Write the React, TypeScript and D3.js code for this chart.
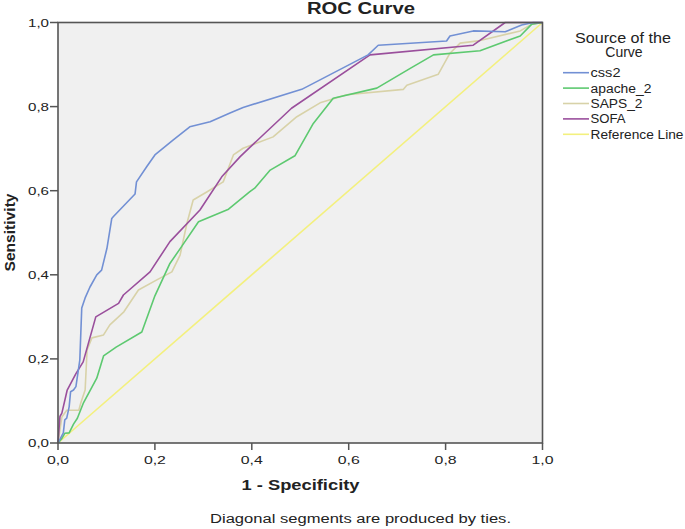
import React from "react";
import * as d3 from "d3";

const css2X = [0, 0.011, 0.014, 0.018, 0.023, 0.026, 0.032, 0.037, 0.045, 0.049, 0.056, 0.066, 0.080, 0.090, 0.101, 0.111, 0.114, 0.159, 0.162, 0.183, 0.200, 0.238, 0.272, 0.314, 0.355, 0.382, 0.503, 0.520, 0.640, 0.661, 0.802, 0.809, 0.857, 0.923, 0.957, 0.981, 1];
const css2Y = [0, 0.024, 0.055, 0.059, 0.086, 0.122, 0.126, 0.134, 0.197, 0.321, 0.345, 0.371, 0.400, 0.411, 0.463, 0.534, 0.538, 0.592, 0.621, 0.657, 0.685, 0.721, 0.752, 0.764, 0.785, 0.798, 0.841, 0.851, 0.923, 0.946, 0.956, 0.968, 0.980, 0.978, 0.994, 1, 1];

const apacheX = [0, 0.008, 0.014, 0.023, 0.032, 0.040, 0.052, 0.080, 0.094, 0.120, 0.173, 0.200, 0.231, 0.255, 0.290, 0.352, 0.396, 0.406, 0.438, 0.489, 0.527, 0.568, 0.658, 0.727, 0.775, 0.871, 0.954, 0.978, 1];
const apacheY = [0, 0.011, 0.023, 0.024, 0.045, 0.059, 0.094, 0.154, 0.207, 0.228, 0.264, 0.350, 0.427, 0.467, 0.526, 0.556, 0.598, 0.606, 0.649, 0.683, 0.760, 0.820, 0.844, 0.891, 0.923, 0.933, 0.968, 0.996, 1];

const sapsX = [0, 0.004, 0.008, 0.018, 0.043, 0.047, 0.056, 0.060, 0.070, 0.094, 0.107, 0.136, 0.166, 0.204, 0.235, 0.252, 0.266, 0.279, 0.307, 0.341, 0.362, 0.382, 0.444, 0.493, 0.541, 0.596, 0.713, 0.720, 0.785, 0.809, 0.830, 0.871, 0.954, 0.978, 1];
const sapsY = [0, 0.031, 0.062, 0.078, 0.078, 0.095, 0.126, 0.221, 0.250, 0.257, 0.281, 0.312, 0.364, 0.388, 0.407, 0.447, 0.522, 0.578, 0.597, 0.621, 0.685, 0.701, 0.728, 0.776, 0.809, 0.828, 0.841, 0.851, 0.877, 0.927, 0.951, 0.957, 0.980, 0.996, 1];

const sofaX = [0, 0.004, 0.008, 0.019, 0.037, 0.052, 0.078, 0.125, 0.135, 0.190, 0.231, 0.293, 0.338, 0.376, 0.396, 0.482, 0.644, 0.857, 0.923, 1];
const sofaY = [0, 0.063, 0.071, 0.126, 0.165, 0.193, 0.300, 0.332, 0.352, 0.407, 0.479, 0.554, 0.633, 0.681, 0.703, 0.796, 0.923, 0.946, 1, 1];

const refX = [0, 1];
const refY = [0, 1];

const seriesNames = ["css2", "apache_2", "SAPS_2", "SOFA", "Reference Line"];
const seriesColors = ["#7290d4", "#5dc970", "#d8d2a8", "#9a4f9c", "#f3f07e"];
const tickValues = [0, 0.2, 0.4, 0.6, 0.8, 1.0];
const tickLabels = ["0,0", "0,2", "0,4", "0,6", "0,8", "1,0"];
const legendWidths = [30, 61, 52, 35, 93];

export default function App() {
  const W = 685, H = 529;
  const x = d3.scaleLinear().domain([0, 1]).range([58, 542.5]);
  const y = d3.scaleLinear().domain([0, 1]).range([443, 22.5]);
  const line = d3.line<[number, number]>().x(d => x(d[0])).y(d => y(d[1]));
  const series = [
    [css2X, css2Y],
    [apacheX, apacheY],
    [sapsX, sapsY],
    [sofaX, sofaY],
    [refX, refY],
  ];
  const drawOrder = [4, 2, 1, 3, 0];
  const font = "'Liberation Sans', Arial, sans-serif";
  return (
    <svg width={W} height={H} style={{ position: "absolute", left: 0, top: 0, background: "#fff" }} fontFamily={font}>
      <rect x={x(0)} y={y(1)} width={x(1) - x(0)} height={y(0) - y(1)} fill="#f0f0f0" />
      <g>
        {drawOrder.map(i => {
          const [xs, ys] = series[i];
          const pts = xs.map((v, k) => [v, ys[k]] as [number, number]);
          return <path key={i} d={line(pts) || ""} fill="none" stroke={seriesColors[i]} strokeWidth={1.6} strokeLinejoin="round" />;
        })}
      </g>
      <rect x={x(0)} y={y(1)} width={x(1) - x(0)} height={y(0) - y(1)} fill="none" stroke="#555" strokeWidth={1.6} />
      {tickValues.map((t, i) => (
        <g key={"y" + i}>
          <line x1={x(0) - 8} x2={x(0)} y1={y(t)} y2={y(t)} stroke="#555" strokeWidth={1.5} />
          <text x={49} y={y(t) + 4} textAnchor="end" fontSize={11} fill="#222" textLength={21} lengthAdjust="spacingAndGlyphs">{tickLabels[i]}</text>
        </g>
      ))}
      {tickValues.map((t, i) => (
        <g key={"x" + i}>
          <line x1={x(t)} x2={x(t)} y1={y(0)} y2={y(0) + 7} stroke="#555" strokeWidth={1.5} />
          <text x={x(t)} y={463.5} textAnchor="middle" fontSize={11} fill="#222" textLength={22} lengthAdjust="spacingAndGlyphs">{tickLabels[i]}</text>
        </g>
      ))}
      <text x={361} y={14} textAnchor="middle" fontSize={16} fontWeight="bold" fill="#222" textLength={108} lengthAdjust="spacingAndGlyphs">ROC Curve</text>
      <text x={300.5} y={490} textAnchor="middle" fontSize={14} fontWeight="bold" fill="#222" textLength={118} lengthAdjust="spacingAndGlyphs">1 - Specificity</text>
      <text transform={`translate(15,232.5) rotate(-90)`} textAnchor="middle" fontSize={14} fontWeight="bold" fill="#222" textLength={78} lengthAdjust="spacingAndGlyphs">Sensitivity</text>
      <text x={360.5} y={523} textAnchor="middle" fontSize={12} fill="#222" textLength={301} lengthAdjust="spacingAndGlyphs">Diagonal segments are produced by ties.</text>
      <text x={623} y={42.5} textAnchor="middle" fontSize={14} fill="#222" textLength={96} lengthAdjust="spacingAndGlyphs">Source of the</text>
      <text x={624} y={57} textAnchor="middle" fontSize={14} fill="#222">Curve</text>
      {seriesNames.map((n, i) => {
        const yy = 72.7 + i * 15.4;
        return (
          <g key={n}>
            <line x1={563} x2={589} y1={yy} y2={yy} stroke={seriesColors[i]} strokeWidth={1.6} />
            <text x={590.5} y={yy + 4.5} fontSize={12.5} fill="#222" textLength={legendWidths[i]} lengthAdjust="spacingAndGlyphs">{n}</text>
          </g>
        );
      })}
    </svg>
  );
}
